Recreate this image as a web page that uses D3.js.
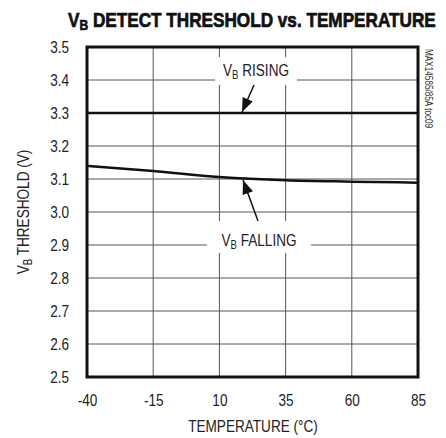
<!DOCTYPE html>
<html><head><meta charset="utf-8">
<script src="https://cdn.jsdelivr.net/npm/d3@7"></script>
<style>body{margin:0;background:#fff}svg{display:block}</style>
</head><body>
<script>
const temps = [-40, -15, 10, 35, 60, 85];
const risingVals = [3.3, 3.3, 3.3, 3.3, 3.3, 3.3];
const fallingVals = [3.14, 3.124, 3.106, 3.096, 3.092, 3.089];
const xTicks = [-40, -15, 10, 35, 60, 85];
const yTicks = [2.5, 2.6, 2.7, 2.8, 2.9, 3.0, 3.1, 3.2, 3.3, 3.4, 3.5];

const W = 446, H = 438;
const m = {l: 87, r: 28, t: 47, b: 61};
const FONT = "'Liberation Sans',Arial,sans-serif";
const SX = 0.8;
const svg = d3.select("body").append("svg").attr("width", W).attr("height", H);

const x = d3.scaleLinear().domain([-40, 85]).range([m.l, W - m.r]);
const y = d3.scaleLinear().domain([2.5, 3.5]).range([H - m.b, m.t]);

// grid
const g = svg.append("g");
g.selectAll(".gx").data(xTicks.slice(1, -1)).join("line")
  .attr("x1", d => x(d)).attr("x2", d => x(d)).attr("y1", y(3.5)).attr("y2", y(2.5))
  .attr("stroke", "#555").attr("stroke-width", 1);
g.selectAll(".gy").data(yTicks.slice(1, -1)).join("line")
  .attr("x1", x(-40)).attr("x2", x(85)).attr("y1", d => y(d)).attr("y2", d => y(d))
  .attr("stroke", "#555").attr("stroke-width", 1);

// label boxes (white)
svg.append("rect").attr("x", 215).attr("y", 57).attr("width", 82).attr("height", 28).attr("fill", "#fff");
svg.append("rect").attr("x", 207).attr("y", 221).attr("width", 104).attr("height", 32).attr("fill", "#fff");

// data lines
const line = d3.line().x((d, i) => x(temps[i])).y(d => y(d)).curve(d3.curveMonotoneX);
svg.append("path").attr("d", line(risingVals)).attr("fill", "none").attr("stroke", "#111").attr("stroke-width", 2.5);
svg.append("path").attr("d", line(fallingVals)).attr("fill", "none").attr("stroke", "#111").attr("stroke-width", 2.5);

// frame
svg.append("rect").attr("x", x(-40)).attr("y", y(3.5)).attr("width", x(85) - x(-40)).attr("height", y(2.5) - y(3.5))
  .attr("fill", "none").attr("stroke", "#111").attr("stroke-width", 3);

// axes labels
const yAxis = d3.axisLeft(y).tickValues(yTicks).tickFormat(d3.format(".1f")).tickSize(0).tickPadding(18 / SX);
const ya = svg.append("g").attr("transform", `translate(${m.l},0)`).call(yAxis);
ya.select(".domain").remove();
ya.selectAll("text").attr("font-family", FONT).attr("font-size", 17).attr("fill", "#222")
  .attr("transform", `scale(${SX},1)`);

const xAxis = d3.axisBottom(x).tickValues(xTicks).tickFormat(d => d).tickSize(0).tickPadding(17);
const xa = svg.append("g").attr("transform", `translate(0,${H - m.b})`).call(xAxis);
xa.select(".domain").remove();
xa.selectAll("text").attr("font-family", FONT).attr("font-size", 17).attr("fill", "#222")
  .attr("transform", `scale(${SX},1)`);

// title
const t = svg.append("text").attr("x", 0).attr("y", 0)
  .attr("font-family", FONT).attr("font-weight", "bold").attr("font-size", 20).attr("fill", "#111")
  .attr("stroke", "#111").attr("stroke-width", 0.7);
t.append("tspan").text("V");
t.append("tspan").attr("font-size", 14).attr("dy", 3).text("B");
t.append("tspan").attr("dy", -3).text(" DETECT THRESHOLD vs. TEMPERATURE");
const tl = t.node().getComputedTextLength();
t.attr("transform", `translate(68,27) scale(${368 / tl},1)`);

// x title
svg.append("text").attr("transform", `translate(253,432) scale(${SX},1)`).attr("text-anchor", "middle")
  .attr("font-family", FONT).attr("font-size", 17).attr("fill", "#222").text("TEMPERATURE (°C)");

// y title
const yt = svg.append("text").attr("transform", `translate(29,${(y(2.5) + y(3.5)) / 2}) rotate(-90) scale(${SX},1)`)
  .attr("text-anchor", "middle").attr("font-family", FONT).attr("font-size", 17).attr("fill", "#222");
yt.append("tspan").text("V");
yt.append("tspan").attr("font-size", 12).attr("dy", 3).text("B");
yt.append("tspan").attr("dy", -3).text(" THRESHOLD (V)");

// side note
svg.append("text").attr("transform", `translate(425,49) rotate(90) scale(0.78,1)`)
  .attr("font-family", FONT).attr("font-size", 10.5).attr("fill", "#333").text("MAX14585/85A toc09");

// annotations
function label(cx, cy, main) {
  const tx = svg.append("text").attr("transform", `translate(${cx},${cy}) scale(${SX},1)`).attr("text-anchor", "middle")
    .attr("font-family", FONT).attr("font-size", 17).attr("fill", "#222");
  tx.append("tspan").text("V");
  tx.append("tspan").attr("font-size", 12).attr("dy", 3).text("B");
  tx.append("tspan").attr("dy", -3).text(" " + main);
}
label(256, 76, "RISING");
label(259, 246, "FALLING");

function arrow(x1, y1, x2, y2) {
  svg.append("line").attr("x1", x1).attr("y1", y1).attr("x2", x2).attr("y2", y2)
    .attr("stroke", "#111").attr("stroke-width", 1.5);
  const ang = Math.atan2(y2 - y1, x2 - x1);
  const L = 14, w = 5.5;
  const bx = x2 - L * Math.cos(ang), by = y2 - L * Math.sin(ang);
  const px = -Math.sin(ang) * w, py = Math.cos(ang) * w;
  svg.append("path").attr("d", `M${x2},${y2}L${bx + px},${by + py}L${bx - px},${by - py}Z`).attr("fill", "#111");
}
arrow(254, 85, 242, 112);
arrow(258, 221, 243, 180);
</script>
</body></html>
